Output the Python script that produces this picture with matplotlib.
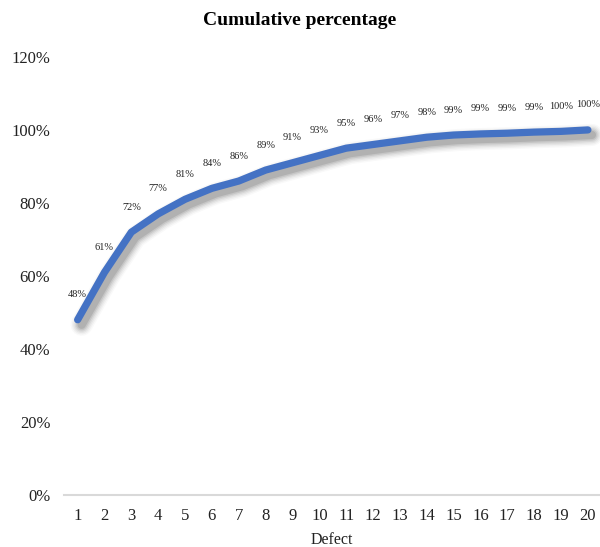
import matplotlib
matplotlib.use("Agg")
import matplotlib.pyplot as plt
import matplotlib.transforms as mtransforms
from matplotlib.ticker import FuncFormatter

# Cumulative share of defects (Pareto curve)
defects = list(range(1, 21))
cumulative = [0.48, 0.61, 0.72, 0.77, 0.81, 0.84, 0.86, 0.89, 0.91, 0.93,
              0.95, 0.96, 0.97, 0.98, 0.986, 0.989, 0.991, 0.994, 0.996, 1.00]
y_ticks = [0.0, 0.2, 0.4, 0.6, 0.8, 1.0, 1.2]

LINE_COLOR = "#4472C4"
TEXT_COLOR = "#222222"

plt.rcParams["font.family"] = ["Liberation Serif", "DejaVu Serif"]

fig = plt.figure(figsize=(6.0, 5.47), dpi=100)
ax = fig.add_axes([0.107, 0.095, 0.893, 0.801])

# Soft drop shadow under the curve
for width, alpha in [(16, 0.025), (14, 0.035), (12, 0.045), (10, 0.06), (8, 0.08), (6, 0.10)]:
    shadow_tf = mtransforms.offset_copy(ax.transData, fig=fig, x=4, y=-5, units="dots")
    ax.plot(defects, cumulative, color="black", lw=width, alpha=alpha,
            solid_capstyle="round", solid_joinstyle="round",
            transform=shadow_tf, zorder=1)

ax.plot(defects, cumulative, color=LINE_COLOR, lw=5.2,
        solid_capstyle="round", solid_joinstyle="round", zorder=3)

# Data labels above each point
for x, y in zip(defects, cumulative):
    ax.annotate(f"{y:.0%}", (x, y), xytext=(0, 18), textcoords="offset points",
                ha="center", va="center", fontsize=7.5, color=TEXT_COLOR)

ax.set_xlim(0.5, 20.45)
ax.set_ylim(0, 1.2)
ax.set_xticks(defects)
ax.set_yticks(y_ticks)
ax.yaxis.set_major_formatter(FuncFormatter(lambda v, _: f"{v:.0%}"))

for side in ("top", "right", "left"):
    ax.spines[side].set_visible(False)
ax.spines["bottom"].set_color("#d9d9d9")
ax.spines["bottom"].set_linewidth(1.5)
ax.tick_params(axis="both", length=0, labelsize=12, colors=TEXT_COLOR)
ax.tick_params(axis="x", pad=9)
ax.tick_params(axis="y", pad=10)

ax.set_xlabel("Defect", fontsize=11.5, color=TEXT_COLOR, labelpad=6)
fig.suptitle("Cumulative percentage", fontsize=14, fontweight="bold",
             color="black", y=0.978)

fig.savefig("out.png", dpi=100)
